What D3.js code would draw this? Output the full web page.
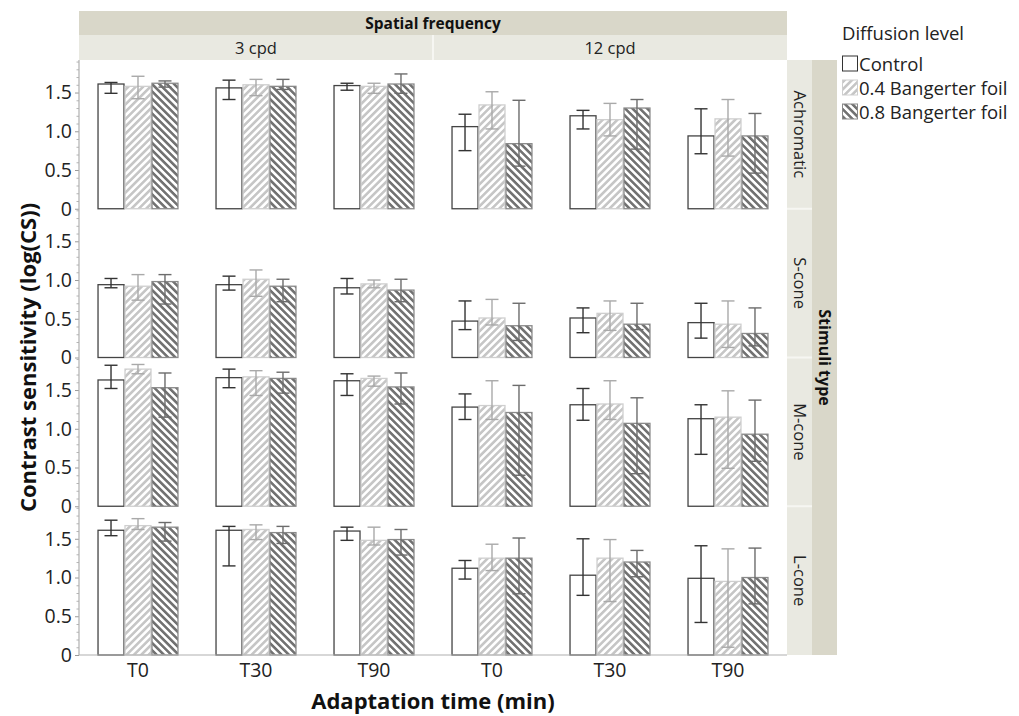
<!DOCTYPE html>
<html>
<head>
<meta charset="utf-8">
<script src="https://cdn.jsdelivr.net/npm/d3@7"></script>
<style>
  body { margin: 0; background: #fff; }
  svg { display: block; font-family: "Open Sans", "Noto Sans", sans-serif; }
</style>
</head>
<body>
<svg id="chart" width="1019" height="716"></svg>
<script>
// ---- data -------------------------------------------------------------
const frequencies = ["3 cpd", "12 cpd"];
const stimuli = ["Achromatic", "S-cone", "M-cone", "L-cone"];
const times = ["T0", "T30", "T90"];
const levels = ["Control", "0.4 Bangerter foil", "0.8 Bangerter foil"];
const yTicks = [0, 0.5, 1.0, 1.5];
const yTickLabels = ["0", "0.5", "1.0", "1.5"];

// log(CS) per cell, ordered frequency -> time -> diffusion level
const meanAchromatic = [1.61,1.58,1.62, 1.56,1.60,1.58, 1.59,1.58,1.61, 1.06,1.34,0.84, 1.20,1.15,1.30, 0.94,1.16,0.94];
const lowAchromatic  = [1.49,1.42,1.57, 1.41,1.46,1.54, 1.53,1.49,1.49, 0.75,1.03,0.55, 1.03,0.94,0.77, 0.71,0.68,0.46];
const highAchromatic = [1.63,1.71,1.65, 1.66,1.67,1.67, 1.62,1.62,1.74, 1.22,1.51,1.40, 1.27,1.36,1.41, 1.29,1.41,1.23];

const meanS = [0.94,0.92,0.98, 0.94,1.01,0.92, 0.90,0.95,0.87, 0.47,0.51,0.41, 0.51,0.57,0.43, 0.45,0.43,0.31];
const lowS  = [0.90,0.74,0.69, 0.87,0.79,0.72, 0.82,0.90,0.72, 0.36,0.42,0.22, 0.32,0.35,0.36, 0.25,0.13,0.15];
const highS = [1.02,1.07,1.07, 1.05,1.13,1.01, 1.02,1.00,1.01, 0.73,0.75,0.70, 0.64,0.73,0.70, 0.70,0.73,0.64];

const meanM = [1.63,1.77,1.53, 1.66,1.67,1.65, 1.62,1.65,1.54, 1.28,1.30,1.21, 1.31,1.32,1.07, 1.13,1.15,0.93];
const lowM  = [1.52,1.71,1.15, 1.53,1.43,1.46, 1.43,1.55,1.32, 1.12,1.12,0.40, 1.11,1.12,0.42, 0.67,0.49,0.58];
const highM = [1.82,1.83,1.72, 1.77,1.75,1.73, 1.71,1.68,1.72, 1.45,1.62,1.56, 1.52,1.62,1.40, 1.31,1.49,1.37];

const meanL = [1.61,1.67,1.65, 1.61,1.62,1.58, 1.60,1.48,1.49, 1.12,1.25,1.25, 1.03,1.25,1.20, 0.99,0.95,1.00];
const lowL  = [1.54,1.62,1.47, 1.15,1.49,1.44, 1.48,1.42,1.29, 0.98,1.09,0.79, 0.77,0.69,1.01, 0.42,0.10,0.66];
const highL = [1.74,1.76,1.71, 1.66,1.68,1.66, 1.65,1.65,1.62, 1.22,1.43,1.51, 1.50,1.49,1.35, 1.41,1.37,1.38];

const meansByStimulus = [meanAchromatic, meanS, meanM, meanL];
const lowsByStimulus  = [lowAchromatic, lowS, lowM, lowL];
const highsByStimulus = [highAchromatic, highS, highM, highL];

// ---- layout -----------------------------------------------------------
const svg = d3.select("#chart");
const plot = { left: 79, right: 787, top: 60, bottom: 655 };
const rowH = (plot.bottom - plot.top) / stimuli.length;
const yMax = 1.92;

const stripDark = "#d9d7c9";
const stripLight = "#e9e9e1";

const xFreq = d3.scaleBand().domain(frequencies).range([plot.left, plot.right]);
const xTime = d3.scaleBand().domain(times).range([0, xFreq.bandwidth()])
  .paddingInner(0.314).paddingOuter(0.157);
const xLevel = d3.scaleBand().domain(levels).range([0, xTime.bandwidth()]);

const yFor = i => d3.scaleLinear().domain([0, yMax])
  .range([plot.top + (i + 1) * rowH, plot.top + i * rowH]);

// hatch patterns
const defs = svg.append("defs");
function hatch(id, angle, color) {
  const p = defs.append("pattern").attr("id", id)
    .attr("patternUnits", "userSpaceOnUse")
    .attr("width", 5.2).attr("height", 5.2)
    .attr("patternTransform", `rotate(${angle})`);
  p.append("rect").attr("width", 5.2).attr("height", 5.2).attr("fill", "#fff");
  p.append("rect").attr("width", 2.6).attr("height", 5.2).attr("fill", color);
}
hatch("hatchLight", 45, "#c6c6c6");
hatch("hatchDark", -45, "#727272");

const fills = ["#ffffff", "url(#hatchLight)", "url(#hatchDark)"];
const strokes = ["#444444", "#cfcfcf", "#8a8a8a"];
const errColors = ["#333333", "#a9a9a9", "#6c6c6c"];

// ---- header strips ----------------------------------------------------
svg.append("rect").attr("x", plot.left).attr("y", 11)
  .attr("width", plot.right - plot.left).attr("height", 24).attr("fill", stripDark);
svg.append("text").attr("x", (plot.left + plot.right) / 2).attr("y", 29)
  .attr("text-anchor", "middle").attr("font-size", 15.5).attr("font-weight", "bold")
  .attr("fill", "#111").text("Spatial frequency");

frequencies.forEach(f => {
  svg.append("rect").attr("x", xFreq(f)).attr("y", 35)
    .attr("width", xFreq.bandwidth()).attr("height", 25).attr("fill", stripLight);
  svg.append("text").attr("x", xFreq(f) + xFreq.bandwidth() / 2).attr("y", 53.5)
    .attr("text-anchor", "middle").attr("font-size", 16.5).attr("fill", "#222").text(f);
});
svg.append("line").attr("x1", xFreq(frequencies[1])).attr("x2", xFreq(frequencies[1]))
  .attr("y1", 35).attr("y2", 60).attr("stroke", "#f6f6f2").attr("stroke-width", 2);

// ---- right strips -----------------------------------------------------
svg.append("rect").attr("x", plot.right).attr("y", plot.top)
  .attr("width", 25).attr("height", plot.bottom - plot.top).attr("fill", stripLight);
svg.append("rect").attr("x", plot.right + 25).attr("y", plot.top)
  .attr("width", 25).attr("height", plot.bottom - plot.top).attr("fill", stripDark);
stimuli.forEach((s, i) => {
  const cy = plot.top + (i + 0.5) * rowH;
  svg.append("text").attr("transform", `translate(${plot.right + 6.5},${cy}) rotate(90)`)
    .attr("text-anchor", "middle").attr("font-size", 16.5).attr("fill", "#222").text(s);
  if (i > 0) {
    svg.append("line").attr("x1", plot.right).attr("x2", plot.right + 25)
      .attr("y1", plot.top + i * rowH).attr("y2", plot.top + i * rowH)
      .attr("stroke", "#f6f6f2").attr("stroke-width", 2);
  }
});
svg.append("text")
  .attr("transform", `translate(${plot.right + 31.5},${(plot.top + plot.bottom) / 2}) rotate(90)`)
  .attr("text-anchor", "middle").attr("font-size", 16).attr("font-weight", "bold")
  .attr("fill", "#111").text("Stimuli type");

// ---- panels -----------------------------------------------------------
stimuli.forEach((s, i) => {
  const y = yFor(i);
  const means = meansByStimulus[i], lows = lowsByStimulus[i], highs = highsByStimulus[i];

  // y axis: major and minor ticks
  const minor = d3.range(1, 20).map(k => k / 10).filter(v => v <= yMax && Math.round(v * 10) % 5 !== 0);
  const gMinor = svg.append("g").attr("transform", `translate(${plot.left},0)`)
    .call(d3.axisLeft(y).tickValues(minor).tickSize(2.5).tickFormat(""));
  gMinor.select(".domain").remove();
  gMinor.selectAll("line").attr("stroke", "#b5b5b5");

  const gMajor = svg.append("g").attr("transform", `translate(${plot.left},0)`)
    .call(d3.axisLeft(y).tickValues(yTicks).tickSize(4)
      .tickFormat((d, k) => yTickLabels[k]));
  gMajor.select(".domain").remove();
  gMajor.selectAll("line").attr("stroke", "#9a9a9a");
  gMajor.selectAll("text").attr("font-size", 19.5).attr("fill", "#222")
    .attr("font-family", "'Open Sans', sans-serif").attr("x", -7);

  frequencies.forEach((f, fi) => {
    times.forEach((t, ti) => {
      levels.forEach((l, li) => {
        const k = fi * 9 + ti * 3 + li;
        const x0 = xFreq(f) + xTime(t) + xLevel(l);
        const w = xLevel.bandwidth();
        svg.append("rect")
          .attr("x", x0 + 0.5).attr("y", y(means[k]))
          .attr("width", w - 1).attr("height", y(0) - y(means[k]))
          .attr("fill", fills[li]).attr("stroke", strokes[li]).attr("stroke-width", 1.3);
        const cx = x0 + w / 2;
        const eb = svg.append("g").attr("stroke", errColors[li]).attr("stroke-width", 1.4);
        eb.append("line").attr("x1", cx).attr("x2", cx).attr("y1", y(lows[k])).attr("y2", y(highs[k]));
        eb.append("line").attr("x1", cx - 6.5).attr("x2", cx + 6.5).attr("y1", y(lows[k])).attr("y2", y(lows[k]));
        eb.append("line").attr("x1", cx - 6.5).attr("x2", cx + 6.5).attr("y1", y(highs[k])).attr("y2", y(highs[k]));
      });
    });
  });
});

// axis lines
svg.append("line").attr("x1", plot.left).attr("x2", plot.left)
  .attr("y1", plot.top).attr("y2", plot.bottom).attr("stroke", "#b0b0b0").attr("stroke-width", 1.2);
svg.append("line").attr("x1", plot.left).attr("x2", plot.right)
  .attr("y1", plot.bottom).attr("y2", plot.bottom).attr("stroke", "#b0b0b0").attr("stroke-width", 1.2);

// x axis labels
frequencies.forEach(f => {
  const g = svg.append("g").attr("transform", `translate(${xFreq(f)},${plot.bottom})`)
    .call(d3.axisBottom(xTime).tickSize(0).tickPadding(8));
  g.select(".domain").remove();
  g.selectAll("text").attr("font-size", 19.5).attr("fill", "#222")
    .attr("font-family", "'Open Sans', sans-serif");
});

// axis titles
svg.append("text").attr("x", (plot.left + plot.right) / 2).attr("y", 709)
  .attr("text-anchor", "middle").attr("font-size", 22).attr("font-weight", "bold")
  .attr("fill", "#111").text("Adaptation time (min)");
svg.append("text")
  .attr("transform", `translate(36,${(plot.top + plot.bottom) / 2}) rotate(-90)`)
  .attr("text-anchor", "middle").attr("font-size", 22).attr("font-weight", "bold")
  .attr("fill", "#111").text("Contrast sensitivity (log(CS))");

// ---- legend -----------------------------------------------------------
const legend = svg.append("g").attr("transform", "translate(842,0)");
legend.append("text").attr("x", 0).attr("y", 40).attr("font-size", 18.5)
  .attr("fill", "#222").text("Diffusion level");
levels.forEach((l, li) => {
  const yy = 56 + li * 24;
  legend.append("rect").attr("x", 0.5).attr("y", yy).attr("width", 15).attr("height", 15)
    .attr("fill", fills[li]).attr("stroke", li === 0 ? "#333" : strokes[li]).attr("stroke-width", 1);
  legend.append("text").attr("x", 17).attr("y", yy + 14.5).attr("font-size", 18.5)
    .attr("fill", "#222").text(l);
});
</script>
</body>
</html>
